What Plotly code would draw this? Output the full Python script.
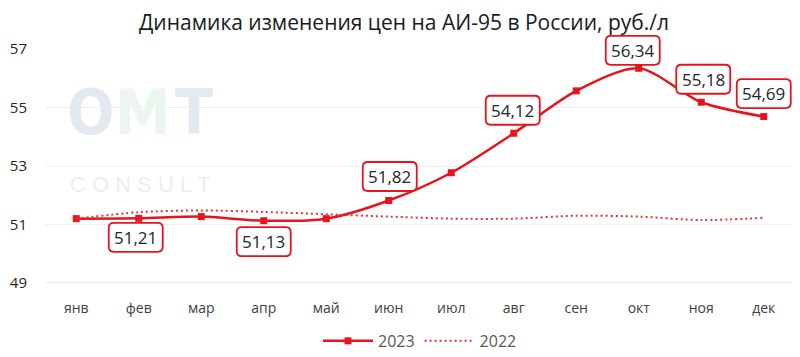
import plotly.graph_objects as go

months = ["янв", "фев", "мар", "апр", "май", "июн", "июл", "авг", "сен", "окт", "ноя", "дек"]
prices_2023 = [51.2, 51.21, 51.27, 51.13, 51.2, 51.82, 52.77, 54.12, 55.57, 56.34, 55.18, 54.69]
prices_2022 = [51.2, 51.42, 51.48, 51.43, 51.35, 51.27, 51.2, 51.2, 51.3, 51.27, 51.15, 51.23]
y_ticks = [49, 51, 53, 55, 57]
label_months = ["фев", "апр", "июн", "авг", "окт", "ноя", "дек"]
# label box placement: (dx px, dy px down from point)
label_offsets = {"фев": (-3, 19), "апр": (0, 21), "июн": (1, -24), "авг": (-1, -23),
                 "окт": (-6, -18), "ноя": (2, -23), "дек": (0, -23)}

RED = "#e8141b"
idx = list(range(len(months)))
Y_MIN, Y_MAX = y_ticks[0], y_ticks[-1]
X_MIN, X_MAX = -0.5, len(months) - 0.5

fig = go.Figure()
fig.add_trace(go.Scatter(x=idx, y=prices_2023, name="2023", mode="lines+markers",
                         line=dict(color=RED, width=2.5, shape="spline", smoothing=0.8),
                         marker=dict(symbol="square", size=7, color=RED)))
fig.add_trace(go.Scatter(x=idx, y=prices_2022, name="2022", mode="lines",
                         line=dict(color="#ee3030", width=2, dash="2px,3px", shape="spline", smoothing=0.8)))


def rounded_rect(cx, cy, w, h, r):
    x0, x1 = cx - w / 2, cx + w / 2
    y0, y1 = cy - h / 2, cy + h / 2
    return (f"M {x0 + r},{y1} L {x1 - r},{y1} Q {x1},{y1} {x1},{y1 - r} "
            f"L {x1},{y0 + r} Q {x1},{y0} {x1 - r},{y0} L {x0 + r},{y0} "
            f"Q {x0},{y0} {x0},{y0 + r} L {x0},{y1 - r} Q {x0},{y1} {x0 + r},{y1} Z")


for m in label_months:
    i = months.index(m)
    v = prices_2023[i]
    dx, dy = label_offsets[m]
    fig.add_shape(type="path", xref="paper", yref="paper", xsizemode="pixel", ysizemode="pixel",
                  xanchor=(i - X_MIN) / (X_MAX - X_MIN), yanchor=(v - Y_MIN) / (Y_MAX - Y_MIN),
                  path=rounded_rect(dx, -dy, 54, 29, 5),
                  line=dict(color=RED, width=1.8), fillcolor="white", layer="above")
    fig.add_annotation(x=i, y=v, xshift=dx, yshift=-dy, text=f"{v:.2f}".replace(".", ","),
                       showarrow=False, font=dict(size=17, color="#262626", family="Open Sans"))

# watermark (logo text)
for letter, xpos, col in [("O", 0.060, "#e4e9f1"), ("M", 0.131, "#ebf6ef"), ("T", 0.198, "#e4e9f1")]:
    fig.add_annotation(xref="paper", yref="paper", x=xpos, y=0.729, xanchor="center", yanchor="middle",
                       text=f"<b>{letter}</b>", showarrow=False,
                       font=dict(size=62, color=col, family="DejaVu Sans Condensed"))
fig.add_annotation(xref="paper", yref="paper", x=0.127, y=0.419, xanchor="center", yanchor="middle",
                   text="C O N S U L T", showarrow=False,
                   font=dict(size=22, color="#eceef1", family="Liberation Sans, Arial"))

# page body has an 8px default margin, so the figure is sized/offset to fit the 800x357 window
fig.update_layout(
    width=792, height=349,
    margin=dict(l=37, r=5, t=41, b=74),
    plot_bgcolor="white", paper_bgcolor="white",
    font=dict(family="Open Sans, Noto Sans", color="#262626"),
    title=dict(text="Динамика изменения цен на АИ-95 в России, руб./л", x=0.5, xanchor="center",
               y=0.958, yanchor="middle", font=dict(size=21, color="#1a1a1a")),
    xaxis=dict(range=[X_MIN, X_MAX], tickvals=idx, ticktext=months, showgrid=False, zeroline=False,
               ticks="", tickfont=dict(size=14, color="#404040"), ticklabelstandoff=15, automargin=False),
    yaxis=dict(range=[Y_MIN, Y_MAX], tickvals=y_ticks, showgrid=True, gridcolor="#efefef",
               gridwidth=1, zeroline=False, tickfont=dict(size=15, color="#262626"),
               ticklabelstandoff=17, automargin=False),
    legend=dict(orientation="h", x=0.5, xanchor="center", yref="container", y=0.046, yanchor="middle",
                font=dict(size=16, color="#595959"), itemwidth=50, tracegroupgap=0),
    showlegend=True,
)
fig.add_hline(y=Y_MIN, line=dict(color="#d9d9d9", width=1))

fig.write_html("out.html")
